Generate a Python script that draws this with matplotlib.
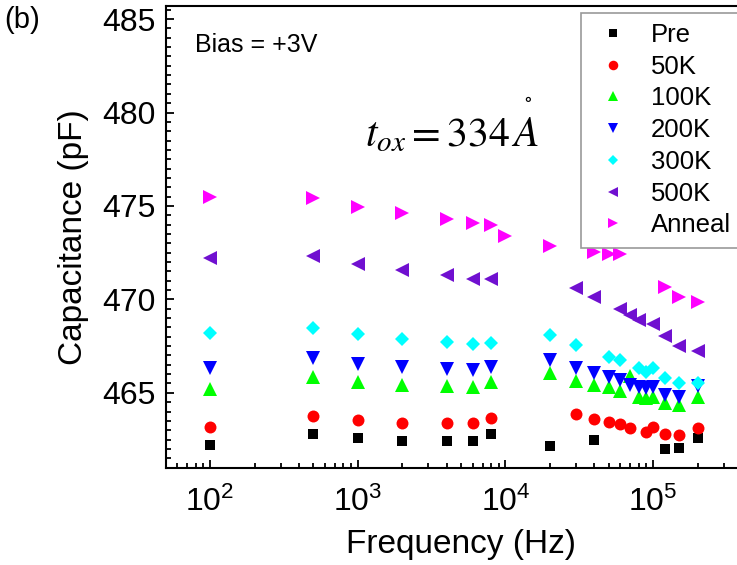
import numpy as np
import matplotlib
matplotlib.use("Agg")
import matplotlib.pyplot as plt
from matplotlib.ticker import MultipleLocator, LogLocator, NullFormatter

plt.rcParams['font.family'] = ['Liberation Sans', 'DejaVu Sans']

# frequencies (Hz) and capacitance (pF)
freq_pre = [100, 500, 1000, 2000, 4000, 6000, 8000, 20000, 40000, 120000, 150000, 200000]
cap_pre = [462.20, 462.82, 462.56, 462.43, 462.43, 462.43, 462.79, 462.16, 462.50, 462.02, 462.05, 462.56]

freq_50k = [100, 500, 1000, 2000, 4000, 6000, 8000, 30000, 40000, 50000, 60000, 70000,
            90000, 100000, 120000, 150000, 200000]
cap_50k = [463.15, 463.77, 463.54, 463.41, 463.36, 463.36, 463.63, 463.84, 463.59, 463.45, 463.32, 463.12,
           462.91, 463.18, 462.79, 462.72, 463.12]

freq_100k = [100, 500, 1000, 2000, 4000, 6000, 8000, 20000, 30000, 40000, 50000, 60000, 70000,
             80000, 90000, 100000, 120000, 150000, 200000]
cap_100k = [465.20, 465.82, 465.56, 465.41, 465.36, 465.32, 465.59, 466.04, 465.62, 465.41, 465.30, 465.12, 465.90,
            464.77, 464.70, 464.79, 464.43, 464.34, 464.75]

freq_200k = [100, 500, 1000, 2000, 4000, 6000, 8000, 20000, 30000, 40000, 50000, 60000, 70000,
             80000, 90000, 100000, 120000, 150000, 200000]
cap_200k = [466.31, 466.84, 466.54, 466.36, 466.27, 466.22, 466.36, 466.75, 466.31, 466.04, 465.86, 465.68, 465.41,
            465.29, 465.25, 465.32, 464.88, 464.79, 465.35]

freq_300k = [100, 500, 1000, 2000, 4000, 6000, 8000, 20000, 30000, 50000, 60000,
             80000, 90000, 100000, 120000, 150000, 200000]
cap_300k = [468.18, 468.45, 468.13, 467.86, 467.70, 467.61, 467.68, 468.09, 467.56, 466.93, 466.75,
            466.31, 466.13, 466.31, 465.77, 465.50, 465.54]

freq_500k = [100, 500, 1000, 2000, 4000, 6000, 8000, 30000, 40000, 60000, 70000, 80000,
             100000, 120000, 150000, 200000]
cap_500k = [472.20, 472.33, 471.90, 471.58, 471.31, 471.09, 471.08, 470.59, 470.11, 469.47, 469.16, 468.90,
            468.68, 468.05, 467.50, 467.25]

freq_anneal = [100, 500, 1000, 2000, 4000, 6000, 8000, 10000, 20000, 40000, 50000, 60000,
               120000, 150000, 200000]
cap_anneal = [475.50, 475.42, 474.97, 474.61, 474.29, 474.08, 473.99, 473.41, 472.86, 472.56, 472.43, 472.43,
              470.68, 470.14, 469.84]

series = [
    ("Pre", freq_pre, cap_pre, "s", "black", 7.8),
    ("50K", freq_50k, cap_50k, "o", "#ff0000", 8.6),
    ("100K", freq_100k, cap_100k, "^", "#00ff00", 9.4),
    ("200K", freq_200k, cap_200k, "v", "#0000ff", 9.4),
    ("300K", freq_300k, cap_300k, "D", "#00ffff", 7.0),
    ("500K", freq_500k, cap_500k, "<", "#7010d0", 9.4),
    ("Anneal", freq_anneal, cap_anneal, ">", "#ff00ff", 9.4),
]

fig = plt.figure(figsize=(7.37, 5.65), dpi=100)
ax = fig.add_axes([0.2248, 0.1708, 0.8014, 0.8186])

for name, f, c, m, col, ms in series:
    ax.plot(f, c, linestyle="none", marker=m, color=col, markersize=ms,
            markeredgewidth=0, label=name)

ax.set_xscale("log")
ax.set_xlim(50, 5e5)
ax.set_ylim(460.95, 485.7)
ax.yaxis.set_major_locator(MultipleLocator(5))
ax.yaxis.set_minor_locator(MultipleLocator(0.5))
ax.xaxis.set_major_locator(LogLocator(base=10))
ax.xaxis.set_minor_locator(LogLocator(base=10, subs=np.arange(2, 10)))
ax.xaxis.set_minor_formatter(NullFormatter())

for s in ax.spines.values():
    s.set_linewidth(1.5)
ax.tick_params(which="both", direction="in", top=False, right=False, width=1.3,
               labelsize=23)
ax.tick_params(which="major", length=6)
ax.tick_params(which="minor", length=3.5)
ax.tick_params(axis="y", which="major", pad=7)
ax.tick_params(axis="x", which="major", pad=13)

ax.set_xlabel("Frequency (Hz)", fontsize=24, labelpad=8)
ax.set_ylabel("Capacitance (pF)", fontsize=24, labelpad=10)

fig.text(4 / 737, 1 - 20 / 565, "(b)", fontsize=21, va="center", ha="left")
fig.text(195 / 737, 1 - 45 / 565, "Bias = +3V", fontsize=18, va="center", ha="left")
fig.text(365 / 737, 1 - 135 / 565, r"$t_{ox} = 334\,A$", fontsize=30,
         va="center", ha="left", math_fontfamily="stix")
# ring of the angstrom sign sits well above the A
fig.text(528 / 737, 1 - 97 / 565, r"$\circ$", fontsize=14,
         va="center", ha="center", math_fontfamily="stix")

leg = ax.legend(loc="upper left", bbox_to_anchor=(580.7 / 737, 1 - 12.7 / 565),
                bbox_transform=fig.transFigure, borderaxespad=0, fancybox=False,
                edgecolor="#999999", framealpha=1, fontsize=18.5, markerscale=0.8,
                handlelength=1.71, handletextpad=0.61, borderpad=0.4, labelspacing=0.3)
leg.get_frame().set_linewidth(1.2)

fig.savefig("out.png", dpi=100)
